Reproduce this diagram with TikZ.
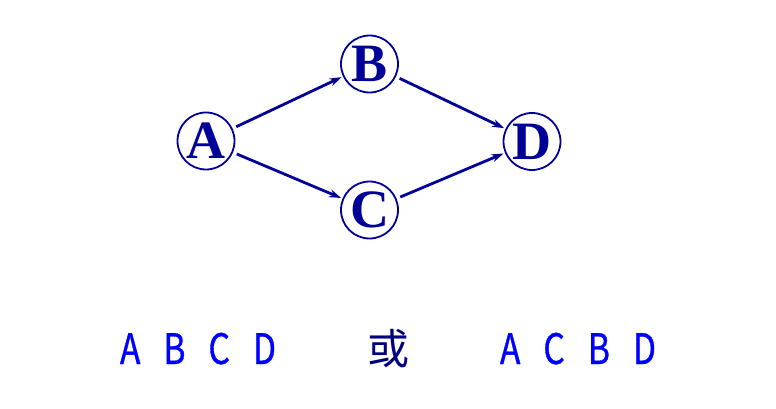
\documentclass[tikz,border=0pt]{standalone}
\usepackage{fontspec}
\setmainfont{Liberation Serif}
\newfontfamily\cjk{Noto Sans CJK SC}
\newfontfamily\cjknarrow[FakeStretch=0.8,FakeBold=0.8]{Noto Sans CJK SC}
\newcommand\seqfont{\cjknarrow\fontsize{42}{42}\selectfont\spaceskip=23pt\relax}
\usetikzlibrary{arrows.meta}
\definecolor{netblue}{RGB}{0,0,153}
\definecolor{seqblue}{RGB}{0,0,255}
\definecolor{orblue}{RGB}{0,0,128}

\begin{document}
\begin{tikzpicture}[x=1pt,y=1pt,
  vertex/.style={circle,draw=netblue,line width=1.8pt,minimum size=57pt,inner sep=0pt,
    text=netblue,font=\fontsize{54}{54}\selectfont\bfseries},
  edge/.style={netblue,line width=2.8pt,-{Stealth[length=12pt,width=8pt]},
    shorten <=4pt,shorten >=1.5pt},
  seq/.style={text=seqblue,anchor=base,font=\seqfont}]

\useasboundingbox (0,0) rectangle (776,408);

% network
\node[vertex] (A) at (206,267) {A};
\node[vertex] (B) at (369.5,344) {B};
\node[vertex] (C) at (369.5,198) {C};
\node[vertex] (D) at (532,266.5) {D};

\draw[edge] (A) -- (B);
\draw[edge] (A) -- (C);
\draw[edge] (B) -- (D);
\draw[edge] (C) -- (D);

% the two orders
\node[seq] (seq1) at (198,44) {A B C D};
\node[anchor=base,text=orblue,font=\cjk\fontsize{42}{42}\selectfont] (or) at (388,44) {或};
\node[seq] (seq2) at (578,44) {A C B D};

\end{tikzpicture}
\end{document}
